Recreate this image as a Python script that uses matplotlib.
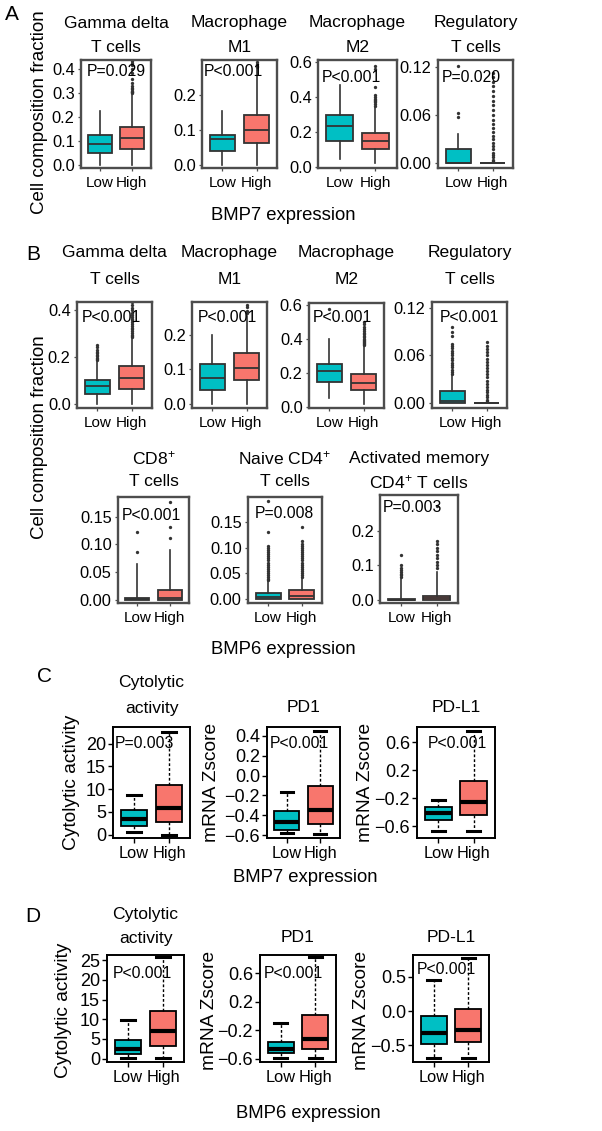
import matplotlib
matplotlib.use('Agg')
import matplotlib.pyplot as plt

W, H = 602, 1131
LOW_COL = '#00BFC4'
HIGH_COL = '#F8766D'

plt.rcParams['font.family'] = ['Liberation Sans', 'DejaVu Sans']
plt.rcParams['mathtext.fontset'] = 'custom'
plt.rcParams['mathtext.rm'] = 'Liberation Sans'
plt.rcParams['mathtext.default'] = 'regular'

# ---------------- data ----------------
# box stats: [whisker low, q1, median, q3, whisker high]
a_titles = [('Gamma delta', 'T cells'), ('Macrophage', 'M1'),
            ('Macrophage', 'M2'), ('Regulatory', 'T cells')]
a_pvals = ['P=0.029', 'P<0.001', 'P<0.001', 'P=0.020']
a_low = [[0.0, 0.05, 0.085, 0.125, 0.225],
         [0.0, 0.039, 0.074, 0.085, 0.155],
         [0.048, 0.15, 0.234, 0.299, 0.467],
         [0.0, 0.0, 0.0, 0.018, 0.036]]
a_high = [[0.0, 0.065, 0.11, 0.158, 0.29],
          [0.0, 0.061, 0.0995, 0.142, 0.275],
          [0.02, 0.105, 0.147, 0.196, 0.34],
          [0.0, 0.0, 0.0, 0.0, 0.0]]
a_low_out = [[], [], [], [0.058, 0.062, 0.121]]
a_high_out = [[0.298, 0.302, 0.306, 0.31, 0.315, 0.32, 0.33, 0.34, 0.36, 0.385, 0.40, 0.415, 0.425, 0.432],
              [0.28, 0.284, 0.288, 0.293],
              [0.35, 0.36, 0.368, 0.375, 0.383, 0.39, 0.398, 0.41, 0.455, 0.56, 0.575],
              [0.002, 0.004, 0.007, 0.01, 0.013, 0.017, 0.021, 0.025, 0.03, 0.034, 0.039, 0.044,
               0.049, 0.054, 0.06, 0.066, 0.072, 0.078, 0.084, 0.09, 0.096, 0.102, 0.108, 0.113]]
a_yticks = [[0.0, 0.1, 0.2, 0.3, 0.4], [0.0, 0.1, 0.2], [0.0, 0.2, 0.4, 0.6], [0.0, 0.06, 0.12]]
a_ylim = [(-0.014, 0.438), (-0.01, 0.30), (-0.006, 0.61), (-0.0063, 0.129)]

b_titles = [('Gamma delta', 'T cells'), ('Macrophage', 'M1'), ('Macrophage', 'M2'),
            ('Regulatory', 'T cells'), ('CD8$^{+}$', 'T cells'), ('Naive CD4$^{+}$', 'T cells'),
            ('Activated memory', 'CD4$^{+}$ T cells')]
b_pvals = ['P<0.001', 'P<0.001', 'P<0.001', 'P<0.001', 'P<0.001', 'P=0.008', 'P=0.003']
b_low = [[0.0, 0.04, 0.076, 0.10, 0.179],
         [0.0, 0.039, 0.076, 0.115, 0.202],
         [0.054, 0.15, 0.212, 0.252, 0.40],
         [0.0, 0.0, 0.002, 0.0144, 0.035],
         [0.0, 0.0, 0.001, 0.003, 0.065],
         [0.0, 0.0, 0.003, 0.011, 0.034],
         [0.0, 0.0, 0.0, 0.002, 0.06]]
b_high = [[0.0, 0.064, 0.11, 0.16, 0.279],
          [0.0, 0.068, 0.105, 0.149, 0.258],
          [0.02, 0.102, 0.14, 0.194, 0.36],
          [0.0, 0.0, 0.0, 0.0, 0.0],
          [0.0, 0.0, 0.003, 0.018, 0.09],
          [0.0, 0.0, 0.005, 0.018, 0.04],
          [0.0, 0.0, 0.004, 0.01, 0.08]]
b_low_out = [[0.185, 0.19, 0.196, 0.203, 0.21, 0.216, 0.223, 0.232, 0.243, 0.252],
             [],
             [0.573],
             [0.037, 0.039, 0.042, 0.045, 0.048, 0.051, 0.054, 0.057, 0.06, 0.063, 0.066,
              0.069, 0.072, 0.075, 0.085, 0.09, 0.096],
             [0.087, 0.123],
             [0.036, 0.039, 0.043, 0.047, 0.051, 0.055, 0.059, 0.063, 0.067, 0.071, 0.075,
              0.079, 0.083, 0.087, 0.091, 0.095, 0.1, 0.104, 0.131, 0.192],
             [0.065, 0.07, 0.075, 0.08, 0.086, 0.092, 0.1, 0.128]]
b_high_out = [[0.285, 0.29, 0.296, 0.302, 0.31, 0.318, 0.326, 0.334, 0.342, 0.35, 0.357,
               0.364, 0.372, 0.38, 0.39, 0.40, 0.412, 0.425, 0.435],
              [0.265, 0.273, 0.282, 0.29],
              [0.365, 0.37, 0.376, 0.382, 0.388, 0.395, 0.402, 0.41, 0.418, 0.427, 0.436,
               0.446, 0.458, 0.472, 0.487, 0.5],
              [0.002, 0.004, 0.007, 0.01, 0.013, 0.016, 0.02, 0.024, 0.028, 0.032, 0.036,
               0.04, 0.044, 0.048, 0.052, 0.056, 0.06, 0.064, 0.068, 0.072, 0.077],
              [0.111, 0.132, 0.177],
              [0.043, 0.047, 0.051, 0.055, 0.059, 0.063, 0.067, 0.071, 0.075, 0.079, 0.083,
               0.087, 0.091, 0.095, 0.099, 0.103, 0.108, 0.114, 0.14],
              [0.09, 0.1, 0.11, 0.12, 0.13, 0.14, 0.15, 0.16, 0.17, 0.27]]
b_yticks = [[0.0, 0.2, 0.4], [0.0, 0.1, 0.2], [0.0, 0.2, 0.4, 0.6], [0.0, 0.06, 0.12],
            [0.0, 0.05, 0.10, 0.15], [0.0, 0.05, 0.10, 0.15], [0.0, 0.1, 0.2]]
b_ylim = [(-0.019, 0.436), (-0.013, 0.298), (-0.004, 0.61), (-0.0068, 0.128),
          (-0.006, 0.186), (-0.008, 0.199), (-0.01, 0.303)]

c_titles = [('Cytolytic', 'activity'), ('', 'PD1'), ('', 'PD-L1')]
c_ylabels = ['Cytolytic activity', 'mRNA Zscore', 'mRNA Zscore']
c_pvals = ['P=0.003', 'P<0.001', 'P<0.001']
c_low = [[0.46, 1.8, 3.46, 5.4, 8.7],
         [-0.58, -0.544, -0.467, -0.358, -0.17],
         [-0.67, -0.51, -0.41, -0.33, -0.22]]
c_high = [[0.0, 2.7, 5.77, 10.85, 22.7],
          [-0.59, -0.484, -0.35, -0.105, 0.45],
          [-0.67, -0.44, -0.26, 0.046, 0.76]]
c_yticks = [[0, 5, 10, 15, 20], [-0.6, -0.4, -0.2, 0.0, 0.2, 0.4], [-0.6, -0.2, 0.2, 0.6]]
c_ylim = [(-0.77, 23.7), (-0.628, 0.488), (-0.77, 0.817)]

d_titles = [('Cytolytic', 'activity'), ('', 'PD1'), ('', 'PD-L1')]
d_ylabels = ['Cytolytic activity', 'mRNA Zscore', 'mRNA Zscore']
d_pvals = ['P<0.001', 'P<0.001', 'P<0.001']
d_low = [[0.25, 1.27, 2.54, 4.83, 9.75],
         [-0.587, -0.526, -0.47, -0.361, -0.092],
         [-0.68, -0.487, -0.32, -0.078, 0.45]]
d_high = [[0.25, 3.14, 7.1, 12.1, 25.7],
          [-0.587, -0.46, -0.326, 0.016, 0.83],
          [-0.68, -0.453, -0.27, 0.035, 0.77]]
d_yticks = [[0, 5, 10, 15, 20, 25], [-0.6, -0.2, 0.2, 0.6], [-0.5, 0.0, 0.5]]
d_ylim = [(-0.85, 26.3), (-0.647, 0.86), (-0.744, 0.817)]

groups = ['Low', 'High']

# ---------------- layout (pixels) ----------------
# (x0, x1, y0, y1) of each plot frame, p-text offset from frame corner
a_boxes = [(81, 151, 60, 168), (202, 277, 60, 168), (318, 397, 60, 168), (438, 513, 60, 168)]
a_ptxt = [(6, 11), (2, 12), (4, 17), (4, 17)]
b_boxes = [(77, 152, 302, 408), (192, 267, 302, 408), (309, 384, 303, 408), (432, 507, 302, 408),
           (118, 189, 497, 603), (248, 322, 497, 603), (380, 458, 495, 603)]
b_title_y = [(253, 280)] * 4 + [(458, 482)] * 3
b_ptxt = [(5, 15), (6, 15), (4, 15), (8, 15), (4, 18), (7, 16), (3, 12)]
c_boxes = [(113, 190, 727, 838), (267, 340, 727, 838), (417, 495, 727, 838)]
c_ptxt = [(2, 16), (3, 16), (11, 16)]
c_ylab_x = [72, 212, 365]
d_boxes = [(107, 184, 955, 1062), (260, 336, 955, 1062), (413, 489, 955, 1062)]
d_ptxt = [(6, 18), (4, 18), (4, 15)]
d_ylab_x = [63, 209, 361]

TITLE_FS = 12.6
fig = plt.figure(figsize=(W / 100, H / 100), dpi=100)


def fx(x):
    return x / W


def fy(y):
    return 1 - y / H


def tick_str(v, dec):
    s = f'{v:.{dec}f}' if dec > 0 else f'{v:.0f}'
    return s.replace('-', '\u2212')


def make_panel(box, low, high, low_out, high_out, yticks, ylim, dec, pval, poff, gg):
    x0, x1, y0, y1 = box
    ax = fig.add_axes([fx(x0), fy(y1), (x1 - x0) / W, (y1 - y0) / H])
    stats = []
    for s, out in ((low, low_out), (high, high_out)):
        stats.append(dict(whislo=s[0], q1=s[1], med=s[2], q3=s[3], whishi=s[4], fliers=out))
    if gg:
        edge = '#333333'
        bp = ax.bxp(stats, positions=[1, 2], widths=0.75, patch_artist=True, showcaps=False,
                    boxprops=dict(edgecolor=edge, linewidth=1.3),
                    medianprops=dict(color=edge, linewidth=1.3),
                    whiskerprops=dict(color=edge, linewidth=1.2),
                    flierprops=dict(marker='o', markersize=2.4, markerfacecolor=edge,
                                    markeredgecolor='none'))
        frame = '#4d4d4d'
        for sp in ax.spines.values():
            sp.set_color(frame)
            sp.set_linewidth(1.7)
        ax.tick_params(length=2.5, width=0.9, color=frame, pad=2)
        ax.tick_params(axis='y', labelsize=11.8)
        ax.tick_params(axis='x', labelsize=11, pad=3.5)
    else:
        bp = ax.bxp(stats, positions=[1, 2], widths=0.75, patch_artist=True, showcaps=True,
                    capwidths=0.38,
                    boxprops=dict(edgecolor='black', linewidth=1.3),
                    medianprops=dict(color='black', linewidth=3),
                    whiskerprops=dict(color='black', linewidth=1.0, linestyle=(0, (2, 1.5))),
                    capprops=dict(color='black', linewidth=2.2),
                    flierprops=dict(marker='o', markersize=2))
        for sp in ax.spines.values():
            sp.set_color('black')
            sp.set_linewidth(1.4)
        ax.tick_params(length=3.5, width=1.0, color='black', pad=1.5)
        ax.tick_params(axis='y', labelsize=13)
        ax.tick_params(axis='x', labelsize=11.8, pad=2.5)
    for patch, col in zip(bp['boxes'], [LOW_COL, HIGH_COL]):
        patch.set_facecolor(col)
    ax.set_xlim(0.4, 2.6)
    ax.set_ylim(*ylim)
    ax.set_xticks([1, 2], groups)
    ax.set_yticks(yticks, [tick_str(v, dec) for v in yticks])
    fig.text(fx(x0 + poff[0]), fy(y0 + poff[1]), pval, ha='left', va='center', fontsize=11.3)
    return ax


# ---- panel A ----
a_dec = [1, 1, 1, 2]
for i in range(4):
    make_panel(a_boxes[i], a_low[i], a_high[i], a_low_out[i], a_high_out[i],
               a_yticks[i], a_ylim[i], a_dec[i], a_pvals[i], a_ptxt[i], True)
    xc = (a_boxes[i][0] + a_boxes[i][1]) / 2
    fig.text(fx(xc), fy(23), a_titles[i][0], ha='center', va='center', fontsize=TITLE_FS)
    fig.text(fx(xc), fy(47), a_titles[i][1], ha='center', va='center', fontsize=TITLE_FS)
fig.text(fx(283), fy(215), 'BMP7 expression', ha='center', va='center', fontsize=13.3)
fig.text(fx(40), fy(112), 'Cell composition fraction', ha='center', va='center',
         rotation=90, fontsize=13.5)
fig.text(fx(12), fy(15), 'A', ha='center', va='center', fontsize=15)

# ---- panel B ----
b_dec = [1, 1, 1, 2, 2, 2, 1]
for i in range(7):
    make_panel(b_boxes[i], b_low[i], b_high[i], b_low_out[i], b_high_out[i],
               b_yticks[i], b_ylim[i], b_dec[i], b_pvals[i], b_ptxt[i], True)
    xc = (b_boxes[i][0] + b_boxes[i][1]) / 2
    fig.text(fx(xc), fy(b_title_y[i][0]), b_titles[i][0], ha='center', va='center', fontsize=TITLE_FS)
    fig.text(fx(xc), fy(b_title_y[i][1]), b_titles[i][1], ha='center', va='center', fontsize=TITLE_FS)
fig.text(fx(283), fy(650), 'BMP6 expression', ha='center', va='center', fontsize=13.3)
fig.text(fx(40), fy(437), 'Cell composition fraction', ha='center', va='center',
         rotation=90, fontsize=13.5)
fig.text(fx(33), fy(255), 'B', ha='center', va='center', fontsize=15)

# ---- panel C ----
c_dec = [0, 1, 1]
for i in range(3):
    make_panel(c_boxes[i], c_low[i], c_high[i], [], [], c_yticks[i], c_ylim[i], c_dec[i],
               c_pvals[i], c_ptxt[i], False)
    xc = (c_boxes[i][0] + c_boxes[i][1]) / 2
    if c_titles[i][0]:
        fig.text(fx(xc), fy(683), c_titles[i][0], ha='center', va='center', fontsize=TITLE_FS)
    fig.text(fx(xc), fy(708), c_titles[i][1], ha='center', va='center', fontsize=TITLE_FS)
    fig.text(fx(c_ylab_x[i]), fy(782), c_ylabels[i], ha='center', va='center',
             rotation=90, fontsize=13.8)
fig.text(fx(305), fy(878), 'BMP7 expression', ha='center', va='center', fontsize=13.3)
fig.text(fx(45), fy(677), 'C', ha='center', va='center', fontsize=15)

# ---- panel D ----
d_dec = [0, 1, 1]
for i in range(3):
    make_panel(d_boxes[i], d_low[i], d_high[i], [], [], d_yticks[i], d_ylim[i], d_dec[i],
               d_pvals[i], d_ptxt[i], False)
    xc = (d_boxes[i][0] + d_boxes[i][1]) / 2
    if d_titles[i][0]:
        fig.text(fx(xc), fy(915), d_titles[i][0], ha='center', va='center', fontsize=TITLE_FS)
    fig.text(fx(xc), fy(938), d_titles[i][1], ha='center', va='center', fontsize=TITLE_FS)
    fig.text(fx(d_ylab_x[i]), fy(1010), d_ylabels[i], ha='center', va='center',
             rotation=90, fontsize=13.8)
fig.text(fx(308), fy(1113), 'BMP6 expression', ha='center', va='center', fontsize=13.3)
fig.text(fx(33), fy(917), 'D', ha='center', va='center', fontsize=15)

fig.savefig('out.png', dpi=100)
plt.close(fig)
